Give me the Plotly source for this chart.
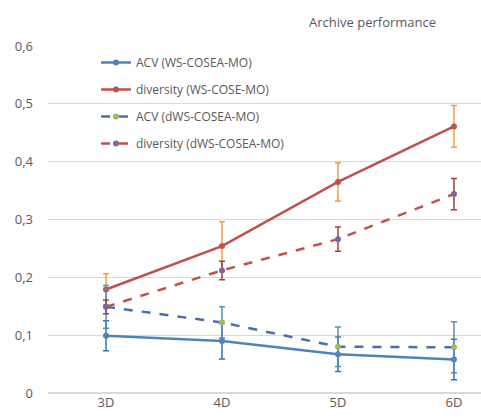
import plotly.graph_objects as go

categories = ["3D", "4D", "5D", "6D"]

acv_ws = [0.099, 0.090, 0.067, 0.058]
acv_ws_err = [0.026, 0.031, 0.030, 0.035]

div_ws = [0.179, 0.254, 0.365, 0.461]
div_ws_err = [0.027, 0.042, 0.033, 0.036]

acv_dws = [0.149, 0.122, 0.080, 0.079]
acv_dws_err = [0.037, 0.027, 0.034, 0.044]

div_dws = [0.149, 0.212, 0.266, 0.344]
div_dws_err = [0.012, 0.016, 0.021, 0.027]

y_ticks = [0, 0.1, 0.2, 0.3, 0.4, 0.5, 0.6]

series = [
    ("ACV (WS-COSEA-MO)", acv_ws, acv_ws_err, "#4F81BD", "#4F81BD", "solid", "#2E75B6"),
    ("diversity (WS-COSE-MO)", div_ws, div_ws_err, "#C0504D", "#C0504D", "solid", "#F0A040"),
    ("ACV (dWS-COSEA-MO)", acv_dws, acv_dws_err, "#4A6FA5", "#9BBB59", "dash", "#4F8FBF"),
    ("diversity (dWS-COSEA-MO)", div_dws, div_dws_err, "#C0504D", "#8064A2", "dash", "#A0403D"),
]

fig = go.Figure()
for i, (name, vals, errs, lc, mc, dash, ec) in enumerate(series):
    fig.add_trace(go.Scatter(
        x=categories, y=vals, name=name, mode="lines+markers",
        line=dict(color=lc, width=2.5, dash=dash),
        marker=dict(color=mc, size=6),
        error_y=dict(type="data", array=errs, visible=True, color=ec, thickness=1.5, width=3),
        legendgroup=f"g{i}",
    ))

fig.update_layout(
    width=481, height=417,
    margin=dict(l=48, r=0, t=46, b=24, autoexpand=False),
    paper_bgcolor="white", plot_bgcolor="white",
    separators=", ",
    font=dict(family="Open Sans", size=12, color="#595959"),
    showlegend=True,
    legend=dict(
        xref="paper", yref="paper", x=(96 - 48) / 433, y=(393 - 48) / 347,
        xanchor="left", yanchor="top", tracegroupgap=8,
        font=dict(size=12, color="#595959"), bgcolor="rgba(0,0,0,0)",
        itemwidth=30,
    ),
    annotations=[dict(
        text="Archive performance", xref="paper", yref="paper",
        x=(372 - 48) / 433, y=1 + 24 / 347, xanchor="center", yanchor="middle",
        showarrow=False, font=dict(size=13, color="#595959"),
    )],
)
fig.update_xaxes(
    type="category", range=[-0.5, 3.233], showgrid=False, showline=False,
    ticks="", tickfont=dict(size=13, color="#595959"),
)
fig.update_yaxes(
    range=[0, 0.6], tickvals=y_ticks, ticktext=["0"] + [f"0,{k}" for k in range(1, 7)],
    showgrid=True, gridcolor="#D9D9D9", gridwidth=1, zeroline=True, zerolinecolor="#D9D9D9",
    showline=False, ticks="", tickfont=dict(size=13, color="#595959"), ticklabelstandoff=14,
)
fig.write_html("out.html", config={"displayModeBar": False},
               post_script="document.body.style.margin='0';")
